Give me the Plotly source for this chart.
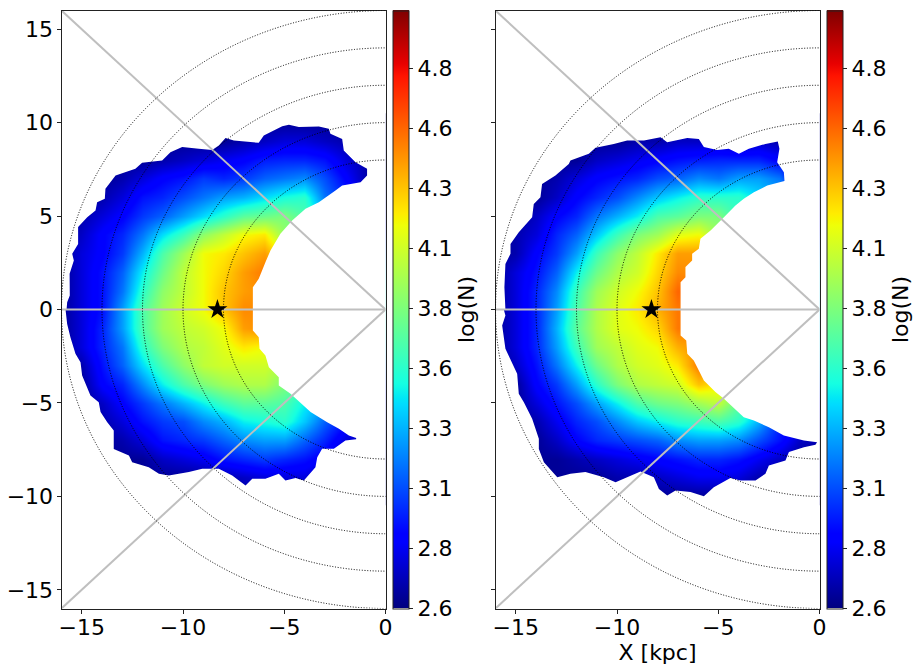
import plotly.graph_objects as go

X_GRID = list(range(-16, 1))
Y_GRID = list(range(10, -11, -1))

# log(N) on a 1 kpc grid; rows run from Y=+10 down to Y=-10, columns from X=-16 to X=0
Z_LEFT = [
    [2.65]*17,
    [2.65,2.65,2.65,2.65,2.65,2.65,2.65,2.65,2.65,2.70,2.75,2.80,2.80,2.75,2.70,2.65,2.65],
    [2.65,2.65,2.65,2.65,2.65,2.70,2.75,2.80,2.85,2.90,2.98,3.00,3.00,2.95,2.80,2.70,2.65],
    [2.65,2.65,2.65,2.70,2.80,2.90,2.95,3.05,3.00,3.05,3.15,3.20,3.25,3.10,2.90,2.70,2.65],
    [2.65,2.65,2.70,2.80,2.95,3.00,3.10,3.20,3.30,3.35,3.45,3.55,3.60,3.20,3.00,2.80,2.70],
    [2.65,2.70,2.80,2.90,3.05,3.15,3.30,3.45,3.60,3.75,3.80,3.85,3.70,3.40,3.20,3.00,2.80],
    [2.65,2.75,2.90,3.00,3.20,3.45,3.65,3.90,4.05,4.20,4.25,3.90,3.90,3.70,3.50,3.30,3.00],
    [2.65,2.80,2.90,3.05,3.35,3.70,3.95,4.20,4.25,4.35,4.45,4.20,4.20,4.00,3.80,3.50,3.20],
    [2.65,2.80,2.95,3.15,3.50,3.80,4.05,4.20,4.30,4.45,4.55,4.50,4.40,4.20,4.00,3.70,3.40],
    [2.65,2.80,2.95,3.20,3.60,3.90,4.05,4.20,4.35,4.45,4.50,4.50,4.40,4.20,4.00,3.80,3.50],
    [2.65,2.80,2.95,3.30,3.70,3.95,4.10,4.20,4.35,4.50,4.50,4.50,4.40,4.20,4.00,3.80,3.50],
    [2.65,2.80,3.00,3.30,3.70,3.95,4.05,4.10,4.20,4.45,4.50,4.45,4.40,4.20,4.00,3.80,3.50],
    [2.65,2.80,3.00,3.20,3.60,3.85,4.00,4.05,4.15,4.25,4.20,4.20,4.10,4.00,3.80,3.60,3.40],
    [2.65,2.70,2.95,3.15,3.45,3.70,3.90,4.05,4.10,4.10,4.10,4.00,3.90,3.80,3.60,3.40,3.20],
    [2.65,2.65,2.90,3.00,3.25,3.50,3.70,3.85,3.95,4.00,4.00,3.85,3.70,3.60,3.40,3.20,3.00],
    [2.65,2.65,2.75,2.90,3.05,3.20,3.35,3.50,3.65,3.75,3.75,3.70,3.50,3.35,3.15,3.00,2.80],
    [2.65,2.65,2.70,2.80,2.95,3.05,3.10,3.25,3.35,3.50,3.55,3.60,3.40,3.15,2.95,2.80,2.70],
    [2.65,2.65,2.65,2.70,2.80,2.95,3.00,3.05,3.15,3.25,3.30,3.30,3.15,3.00,2.80,2.70,2.65],
    [2.65,2.65,2.65,2.65,2.65,2.75,2.80,2.85,2.95,3.00,3.05,3.00,2.95,2.85,2.70,2.65,2.65],
    [2.65,2.65,2.65,2.65,2.65,2.65,2.65,2.65,2.70,2.75,2.80,2.80,2.80,2.70,2.65,2.65,2.65],
    [2.65]*17,
]

Z_RIGHT = [
    [2.65]*17,
    [2.65,2.65,2.65,2.65,2.65,2.65,2.65,2.70,2.70,2.75,2.75,2.75,2.70,2.75,2.70,2.65,2.65],
    [2.65,2.65,2.65,2.65,2.65,2.75,2.80,2.85,2.90,2.95,2.98,3.00,3.00,3.00,2.90,2.70,2.65],
    [2.65,2.65,2.65,2.70,2.80,2.90,2.95,3.00,3.10,3.15,3.25,3.20,3.30,3.30,3.20,2.80,2.65],
    [2.65,2.65,2.65,2.75,2.90,3.00,3.10,3.25,3.40,3.50,3.60,3.60,3.60,3.45,3.30,3.00,2.70],
    [2.65,2.65,2.75,2.90,3.00,3.20,3.35,3.50,3.70,3.75,3.85,3.85,3.60,3.40,3.20,3.00,2.80],
    [2.65,2.70,2.80,3.00,3.15,3.40,3.65,3.85,3.95,4.15,4.20,3.90,3.80,3.60,3.40,3.20,3.00],
    [2.65,2.70,2.90,3.05,3.30,3.65,3.90,4.05,4.25,4.45,4.45,4.20,4.00,3.80,3.60,3.40,3.20],
    [2.65,2.80,2.95,3.15,3.50,3.80,4.00,4.10,4.30,4.50,4.50,4.40,4.20,4.00,3.80,3.60,3.40],
    [2.65,2.80,3.00,3.25,3.65,3.95,4.10,4.20,4.35,4.60,4.50,4.40,4.20,4.00,3.80,3.60,3.40],
    [2.65,2.80,3.00,3.30,3.70,4.00,4.15,4.25,4.40,4.55,4.50,4.40,4.20,4.00,3.80,3.60,3.40],
    [2.65,2.80,3.00,3.35,3.75,4.00,4.15,4.20,4.30,4.55,4.50,4.40,4.20,4.00,3.80,3.60,3.40],
    [2.65,2.80,3.00,3.30,3.65,3.95,4.05,4.15,4.20,4.40,4.50,4.40,4.20,4.00,3.80,3.60,3.40],
    [2.65,2.75,2.95,3.20,3.50,3.80,4.00,4.10,4.15,4.25,4.55,4.40,4.10,3.90,3.70,3.50,3.30],
    [2.65,2.65,2.90,3.05,3.30,3.60,3.85,4.00,4.05,4.10,4.35,4.25,3.90,3.70,3.50,3.30,3.10],
    [2.65,2.65,2.80,2.95,3.10,3.30,3.50,3.70,3.80,3.85,3.95,4.05,3.75,3.50,3.30,3.10,2.90],
    [2.65,2.65,2.70,2.85,3.00,3.10,3.25,3.40,3.50,3.60,3.65,3.70,3.60,3.35,3.00,2.85,2.70],
    [2.65,2.65,2.65,2.75,2.90,3.00,3.05,3.10,3.15,3.25,3.30,3.30,3.25,3.10,2.95,2.75,2.70],
    [2.65,2.65,2.65,2.65,2.70,2.75,2.80,2.85,2.90,2.95,3.00,3.00,2.95,2.85,2.75,2.65,2.65],
    [2.65,2.65,2.65,2.65,2.65,2.65,2.70,2.70,2.75,2.80,2.85,2.85,2.80,2.70,2.65,2.65,2.65],
    [2.65]*17,
]

# Edge of the sampled region in each panel, (X, Y) in kpc
EDGE_LEFT = [
    (-15.75,0),(-15.72,.39),(-15.59,.75),(-15.6,1.91),(-15.39,2.62),(-15.47,2.98),(-15.18,3.51),
    (-15.18,4.41),(-14.73,4.94),(-14.32,5.3),(-14.24,5.74),(-13.86,5.92),(-13.83,6.46),(-13.33,7.17),
    (-12.84,7.35),(-12.35,7.53),(-12.02,7.85),(-11.03,7.97),(-10.62,8.42),(-10.04,8.69),(-9.22,8.6),
    (-8.56,8.54),(-8.23,8.77),(-7.9,9.18),(-7.49,9.04),(-6.26,8.92),(-6.01,9.31),(-5.1,9.81),
    (-4.77,9.88),(-4.28,9.76),(-3.29,9.79),(-2.8,9.67),(-2.72,9.4),(-2.14,9.13),(-2.06,8.51),
    (-1.48,7.88),(-.91,7.53),(-.91,7.17),(-1.23,6.81),(-2.14,6.63),(-2.47,6.37),(-3.29,5.74),
    (-3.95,5.39),(-4.61,4.76),(-5.19,4.05),(-5.35,3.78),(-5.68,3.16),(-5.93,2.53),(-6.26,1.64),
    (-6.55,1.19),(-6.55,0),(-6.55,-1.12),(-6.26,-1.48),(-6.22,-2.1),(-5.93,-2.46),(-5.76,-3.09),
    (-5.27,-3.62),(-5.27,-4.07),(-4.69,-4.51),(-3.7,-5.49),(-2.88,-6.03),(-2.3,-6.38),(-1.81,-6.74),
    (-1.45,-6.87),(-1.45,-6.94),(-1.98,-7.01),(-2.55,-7.45),(-3.13,-7.45),(-3.37,-7.9),(-3.46,-8.44),
    (-4.03,-9.15),(-4.44,-9.02),(-4.94,-9.15),(-5.27,-8.79),(-5.93,-9.06),(-6.58,-9.06),(-6.91,-9.42),
    (-7.57,-8.88),(-8.23,-8.52),(-9.05,-8.52),(-9.71,-8.7),(-10.7,-8.88),(-11.19,-8.79),(-11.69,-8.44),
    (-12.51,-8.17),(-12.67,-7.81),(-13.42,-7.46),(-13.42,-6.47),(-13.74,-6.03),(-14.07,-5.49),
    (-14.16,-4.96),(-14.57,-4.6),(-14.98,-3.53),(-15.06,-2.82),(-15.31,-2.37),(-15.56,-1.48),
    (-15.72,-.77),(-15.8,0),
]
EDGE_RIGHT = [
    (-15.51,0),(-15.56,1.19),(-15.51,2.44),(-15.26,2.98),(-15.26,3.51),(-14.85,4.14),(-14.19,4.94),
    (-14.11,5.65),(-13.78,6.01),(-13.7,6.72),(-13.04,7.17),(-12.38,7.79),(-12.3,7.97),(-11.39,8.33),
    (-11.06,8.65),(-10.16,8.86),(-9.5,9.04),(-8.67,9.04),(-7.85,9.22),(-7.52,8.95),(-6.53,9.18),
    (-5.96,9.13),(-5.71,8.69),(-5.05,8.54),(-4.48,8.6),(-3.98,8.33),(-3.49,8.6),(-2.67,8.86),
    (-2.06,8.99),(-1.98,8.6),(-2.09,7.88),(-1.76,7.35),(-1.73,6.87),(-2.58,6.63),(-3.24,6.28),
    (-3.74,5.92),(-4.15,5.56),(-4.72,4.94),(-5.38,4.23),(-5.88,3.78),(-5.96,3.25),(-6.29,2.98),
    (-6.29,2.62),(-6.62,2.27),(-6.62,1.73),(-6.86,1.46),(-6.86,0),(-6.86,-1.39),(-6.58,-1.66),
    (-6.53,-2.37),(-6.21,-2.73),(-5.96,-3.26),(-5.71,-3.8),(-5.14,-4.42),(-4.72,-4.78),(-3.74,-5.76),
    (-3.24,-5.94),(-2.5,-6.3),(-1.76,-6.74),(-.77,-7.01),(-.12,-7.1),(-.2,-7.24),(-.77,-7.37),
    (-1.51,-7.63),(-1.68,-8.08),(-2.5,-8.35),(-2.67,-8.79),(-3.16,-9.15),(-3.9,-9.15),(-4.4,-9.02),
    (-5.22,-9.51),(-5.71,-9.99),(-6.37,-9.77),(-7.11,-9.68),(-7.52,-9.95),(-7.93,-9.6),(-8.18,-8.97),
    (-8.84,-8.67),(-9.5,-8.97),(-10.07,-9.24),(-10.65,-8.97),(-11.56,-8.7),(-12.3,-8.79),(-12.95,-8.97),
    (-13.61,-8.17),(-13.86,-7.46),(-13.86,-6.92),(-14.19,-5.85),(-14.6,-4.96),(-14.85,-4.51),
    (-14.93,-3.44),(-15.51,-2.1),(-15.67,-.86),(-15.51,-.32),(-15.59,0),
]

GALACTIC_RADII = [8, 10, 12, 14, 16]
SECTOR_ENDS = [(-16, 16), (-16, 0), (-16, -16)]
SUN = (-8.3, 0)
X_TICKS = [-15, -10, -5, 0]
Y_TICKS = [-15, -10, -5, 0, 5, 10, 15]
CBAR_TICKS = [2.6, 2.85, 3.1, 3.35, 3.6, 3.85, 4.1, 4.35, 4.6, 4.85]
CBAR_LABELS = ["2.6", "2.8", "3.1", "3.3", "3.6", "3.8", "4.1", "4.3", "4.6", "4.8"]
Z_MIN, Z_MAX = 2.6, 5.09

JET = [
    [0, "rgb(0,0,128)"], [.11, "rgb(0,0,255)"], [.125, "rgb(0,0,255)"], [.34, "rgb(0,219,255)"],
    [.35, "rgb(0,230,247)"], [.375, "rgb(21,255,226)"], [.64, "rgb(239,255,8)"], [.65, "rgb(247,246,0)"],
    [.66, "rgb(255,236,0)"], [.89, "rgb(255,19,0)"], [.91, "rgb(232,0,0)"], [1, "rgb(127,0,0)"],
]

W, H = 915, 666
FONT = "DejaVu Sans"
fig = go.Figure()


def add_panel(z, edge, xaxis, yaxis, bar_left):
    fig.add_trace(go.Heatmap(
        x=X_GRID, y=Y_GRID, z=z, xaxis=xaxis, yaxis=yaxis, zsmooth="best",
        colorscale=JET, zmin=Z_MIN, zmax=Z_MAX, hoverinfo="skip",
        colorbar=dict(
            x=bar_left / W, xanchor="left", xpad=0, y=(H - 309.5) / H, yanchor="middle", ypad=0,
            len=598 / H, lenmode="fraction", thickness=16, thicknessmode="pixels",
            outlinecolor="#222", outlinewidth=1, ticks="outside", ticklen=4, tickcolor="#222",
            tickmode="array", tickvals=CBAR_TICKS, ticktext=CBAR_LABELS,
            tickfont=dict(size=22, family=FONT, color="black"),
            title=dict(text="log(N)", side="right", font=dict(size=22, family=FONT, color="black")),
        ),
    ))
    # White surround, wound against the edge so the sampled region stays open;
    # the keyhole seam runs along Y=0 under the grey sector line
    ex, ey = zip(*edge)
    mask_x = [-17, *ex, -17, -17, 1, 1, -17, -17]
    mask_y = [0, *ey, 0, -17, -17, 17, 17, 0]
    fig.add_trace(go.Scatter(
        x=mask_x, y=mask_y, xaxis=xaxis, yaxis=yaxis, mode="lines", fill="toself",
        fillcolor="white", line=dict(width=0), hoverinfo="skip", showlegend=False,
    ))
    for end_x, end_y in SECTOR_ENDS:
        fig.add_trace(go.Scatter(
            x=[0, end_x], y=[0, end_y], xaxis=xaxis, yaxis=yaxis, mode="lines",
            line=dict(color="#bfbfbf", width=2), hoverinfo="skip", showlegend=False,
        ))
    fig.add_trace(go.Scatter(
        x=[SUN[0]], y=[SUN[1]], xaxis=xaxis, yaxis=yaxis, mode="markers",
        marker=dict(symbol="star", size=15, color="black", line=dict(width=0)),
        hoverinfo="skip", showlegend=False,
    ))
    for r in GALACTIC_RADII:
        fig.add_shape(
            type="circle", xref=xaxis, yref=yaxis, x0=-r, x1=r, y0=-r, y1=r,
            line=dict(color="black", width=1, dash="1px,1.7px"), layer="above",
        )


add_panel(Z_LEFT, EDGE_LEFT, "x", "y", 392.5)
add_panel(Z_RIGHT, EDGE_RIGHT, "x2", "y2", 826.5)

axis_style = dict(
    showgrid=False, zeroline=False, showline=True, mirror=True, linecolor="#222", linewidth=1,
    ticks="outside", ticklen=4, tickcolor="#222", tickfont=dict(size=22, family=FONT, color="black"),
)
y_domain = [(H - 608.5) / H, (H - 10.5) / H]
fig.update_layout(
    width=W, height=H, margin=dict(l=0, r=0, t=0, b=0, autoexpand=False), autosize=False,
    paper_bgcolor="white", plot_bgcolor="white", showlegend=False,
    xaxis=dict(domain=[61.5 / W, 385.5 / W], range=[-16, 0], tickvals=X_TICKS,
               ticklabelstandoff=-5, **axis_style),
    yaxis=dict(domain=y_domain, range=[-16, 16], tickvals=Y_TICKS, ticklabelstandoff=-1, **axis_style),
    xaxis2=dict(domain=[495.5 / W, 819.5 / W], range=[-16, 0], tickvals=X_TICKS, anchor="y2",
                ticklabelstandoff=-5,
                title=dict(text="X [kpc]", standoff=0, font=dict(size=22, family=FONT, color="black")),
                **axis_style),
    yaxis2=dict(domain=y_domain, range=[-16, 16], tickvals=Y_TICKS, anchor="x2",
                showticklabels=False, **axis_style),
)

fig.write_html("out.html")
